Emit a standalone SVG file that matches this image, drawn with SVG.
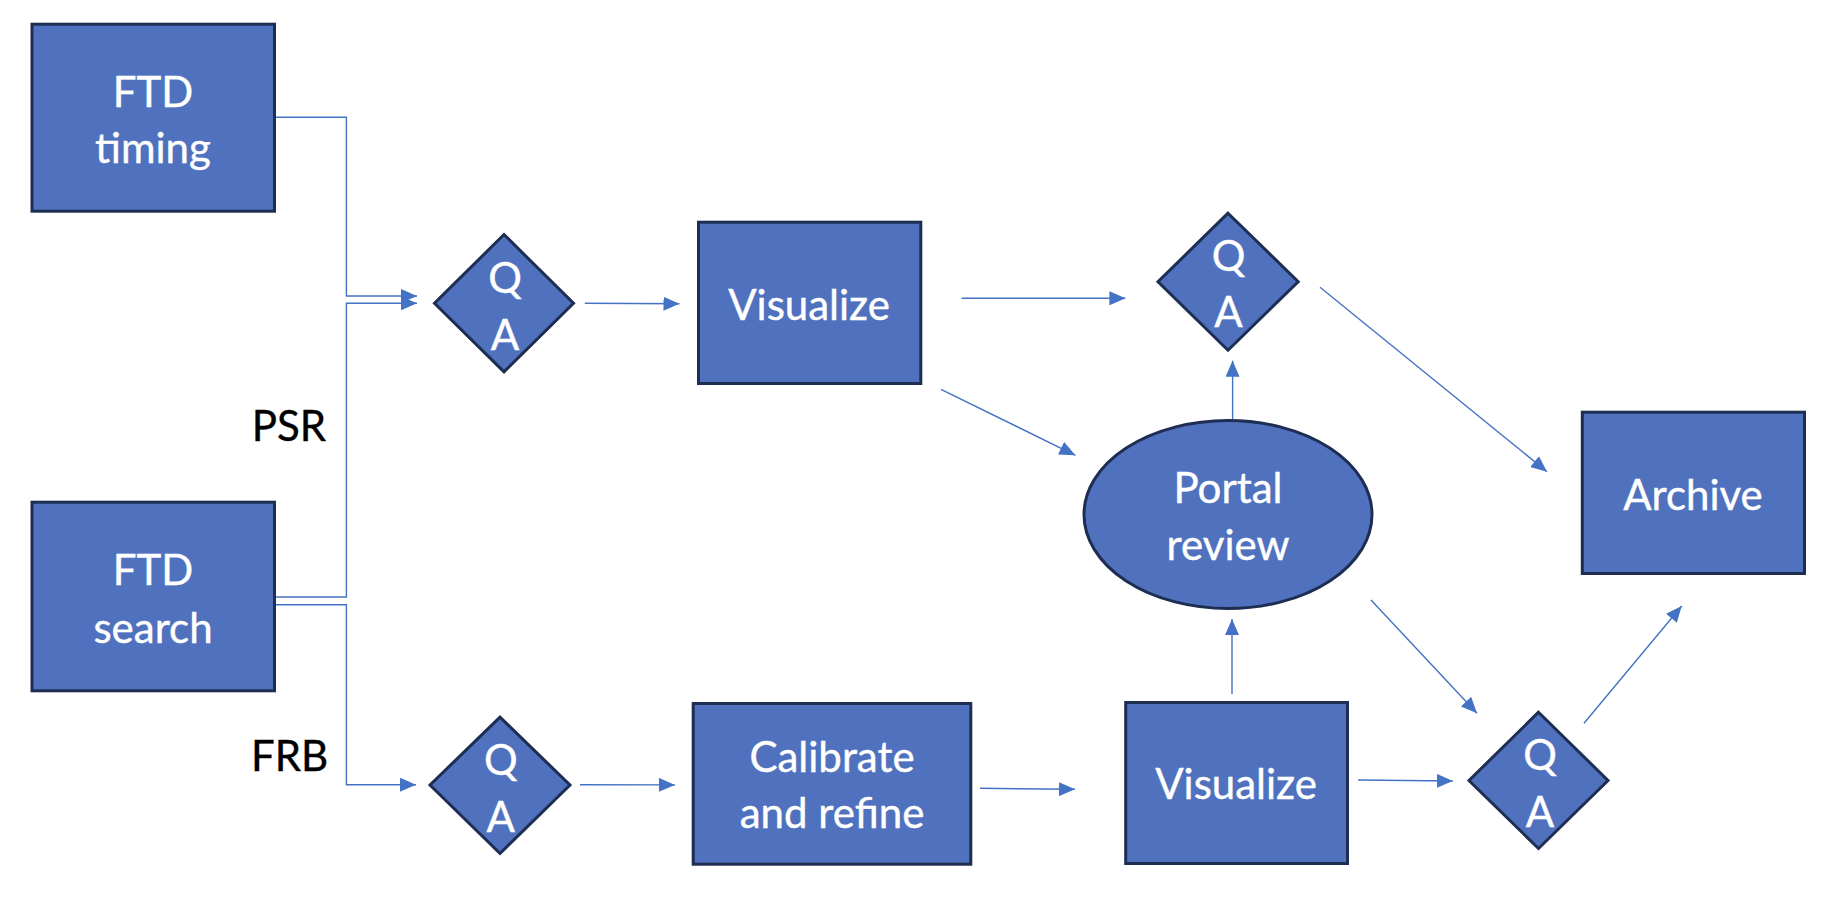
<svg xmlns="http://www.w3.org/2000/svg" width="1834" height="902" viewBox="0 0 1834 902">
<style>
.shape{fill:#5072BE;stroke:#1E2D52;stroke-width:3}
.lbl{font-family:Lato,"Open Sans","Liberation Sans",sans-serif;font-size:42px;fill:#FFFFFF;text-anchor:middle;stroke:#FFFFFF;stroke-width:0.4}
.side{font-family:Lato,"Open Sans","Liberation Sans",sans-serif;font-size:42px;fill:#000000;text-anchor:middle;stroke:#000000;stroke-width:0.4}
.conn{fill:none;stroke:#4472C4;stroke-width:1.4}
</style>
<defs>
<marker id="arr" viewBox="0 0 16 14" refX="16" refY="7" markerWidth="16" markerHeight="14" markerUnits="userSpaceOnUse" orient="auto">
<path d="M0,0 L16,7 L0,14 Z" fill="#4472C4"/>
</marker>
</defs>
<rect width="1834" height="902" fill="#FFFFFF"/>
<g id="connectors">
<polyline class="conn" points="276,117.3 346.4,117.3 346.4,296 417,296" marker-end="url(#arr)"/>
<polyline class="conn" points="276,597 346.4,597 346.4,303.3 417,303.3" marker-end="url(#arr)"/>
<polyline class="conn" points="276,604.7 346.4,604.7 346.4,784.7 416,784.7" marker-end="url(#arr)"/>
<line class="conn" x1="584.8" y1="303.3" x2="679.5" y2="303.8" marker-end="url(#arr)"/>
<line class="conn" x1="580" y1="784.7" x2="675" y2="784.9" marker-end="url(#arr)"/>
<line class="conn" x1="961.6" y1="298.3" x2="1125.4" y2="298.3" marker-end="url(#arr)"/>
<line class="conn" x1="941" y1="389.3" x2="1075.4" y2="455.3" marker-end="url(#arr)"/>
<line class="conn" x1="1232.6" y1="419" x2="1232.6" y2="360.7" marker-end="url(#arr)"/>
<line class="conn" x1="1320" y1="287.3" x2="1547" y2="471.7" marker-end="url(#arr)"/>
<line class="conn" x1="979.9" y1="788.3" x2="1075" y2="789.3" marker-end="url(#arr)"/>
<line class="conn" x1="1232" y1="694" x2="1232" y2="619" marker-end="url(#arr)"/>
<line class="conn" x1="1358" y1="780" x2="1452.8" y2="781" marker-end="url(#arr)"/>
<line class="conn" x1="1371" y1="600" x2="1477" y2="713.3" marker-end="url(#arr)"/>
<line class="conn" x1="1584" y1="723.3" x2="1681.7" y2="606" marker-end="url(#arr)"/>
</g>
<g id="ftd-timing">
<rect class="shape" x="32" y="24.2" width="242.5" height="187"/>
<text class="lbl" x="153" y="107">FTD</text>
<text class="lbl" x="153" y="163">timing</text>
</g>
<g id="ftd-search">
<rect class="shape" x="32" y="502.2" width="242.5" height="188.6"/>
<text class="lbl" x="153" y="585">FTD</text>
<text class="lbl" x="153" y="642.7">search</text>
</g>
<g id="label-psr">
<text class="side" x="289" y="440.7">PSR</text>
</g>
<g id="label-frb">
<text class="side" x="289.5" y="770.7">FRB</text>
</g>
<g id="qa-1">
<polygon class="shape" points="504,234.5 573.5,303.3 504,371.8 434.5,303.3"/>
<text class="lbl" x="505" y="293">Q</text>
<text class="lbl" x="505" y="350">A</text>
</g>
<g id="qa-2">
<polygon class="shape" points="500,717.2 570,785 500,853.5 430,785"/>
<text class="lbl" x="500.7" y="775">Q</text>
<text class="lbl" x="500.7" y="831.7">A</text>
</g>
<g id="visualize-1">
<rect class="shape" x="698.5" y="222.2" width="222.3" height="161.3"/>
<text class="lbl" x="809" y="320">Visualize</text>
</g>
<g id="calibrate">
<rect class="shape" x="693.2" y="703.5" width="277.6" height="160.7"/>
<text class="lbl" x="832" y="772.3">Calibrate</text>
<text class="lbl" x="832" y="828.3">and refine</text>
</g>
<g id="qa-3">
<polygon class="shape" points="1228,213.2 1298.2,281.7 1228,350.2 1158,281.7"/>
<text class="lbl" x="1228.5" y="270.7">Q</text>
<text class="lbl" x="1228.5" y="326.7">A</text>
</g>
<g id="portal-review">
<ellipse class="shape" cx="1228" cy="514.5" rx="144" ry="94"/>
<text class="lbl" x="1228" y="503.3">Portal</text>
<text class="lbl" x="1228" y="560">review</text>
</g>
<g id="visualize-2">
<rect class="shape" x="1125.7" y="702.5" width="221.8" height="161"/>
<text class="lbl" x="1236" y="799">Visualize</text>
</g>
<g id="qa-4">
<polygon class="shape" points="1538.5,712.2 1608,780.5 1538.5,848.5 1469,780.5"/>
<text class="lbl" x="1540" y="770">Q</text>
<text class="lbl" x="1540" y="826.7">A</text>
</g>
<g id="archive">
<rect class="shape" x="1582.3" y="412.2" width="222.2" height="161.3"/>
<text class="lbl" x="1693" y="510">Archive</text>
</g>
</svg>
